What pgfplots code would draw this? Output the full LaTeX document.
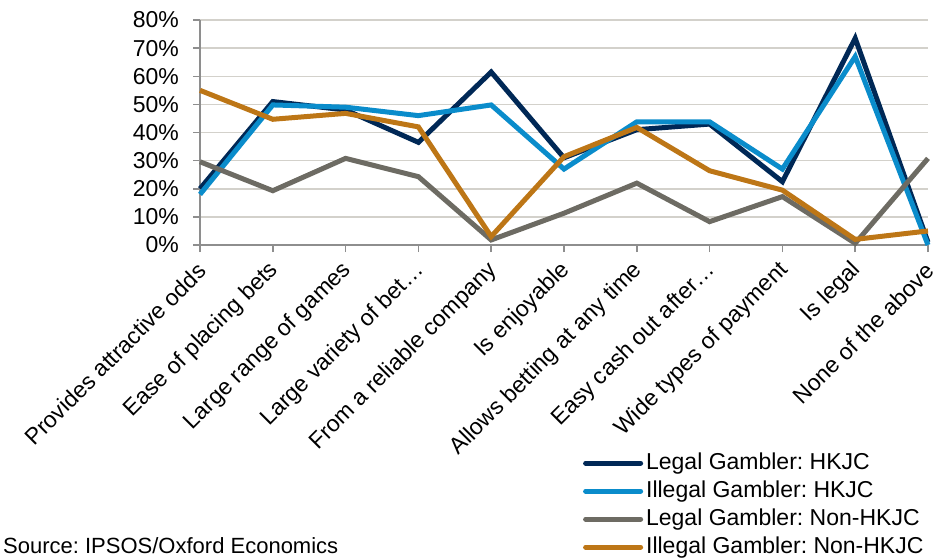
\documentclass[border=0pt]{standalone}
\usepackage{pgfplots}
\pgfplotsset{compat=1.18}
\usepackage{fontspec}
\setmainfont{Liberation Sans}
\frenchspacing
\definecolor{cNavy}{HTML}{002856}
\definecolor{cBlue}{HTML}{0A8CCB}
\definecolor{cGray}{HTML}{6D6B63}
\definecolor{cOrange}{HTML}{BD7616}
\definecolor{cGrid}{HTML}{D3D1CB}
\definecolor{cAxis}{HTML}{8E8E8E}
\begin{document}
\begin{tikzpicture}
\path[use as bounding box] (0pt,0pt) rectangle (937pt,-559pt);
\begin{axis}[
  at={(200pt,-245pt)}, anchor=south west,
  width=728pt, height=225pt, scale only axis,
  xmin=0, xmax=10, ymin=0, ymax=80,
  axis lines=left,
  axis line style={-, draw=cAxis, line width=1.8pt},
  tick align=outside,
  major tick length=7pt,
  tick style={draw=cAxis, line width=1.5pt},
  ymajorgrids,
  grid style={draw=cGrid, line width=1.5pt},
  ytick={0,10,20,30,40,50,60,70,80},
  yticklabels={0\%,10\%,20\%,30\%,40\%,50\%,60\%,70\%,80\%},
  xtick={0,1,2,3,4,5,6,7,8,9,10},
  xticklabels={Provides attractive odds,Ease of placing bets,Large range of games,Large variety of bet…,From a reliable company,Is enjoyable,Allows betting at any time,Easy cash out after…,Wide types of payment,Is legal,None of the above},
  tick label style={font=\fontsize{23}{27}\selectfont},
  yticklabel style={inner sep=0pt, xshift=-14pt},
  xticklabel style={rotate=45, anchor=east, inner sep=0pt, xshift=-9pt, yshift=-12pt},
  legend style={at={(0.526,-0.92)}, anchor=north west, draw=none, fill=none,
    font=\fontsize{23}{26}\selectfont, row sep=6pt, inner sep=0pt,
    nodes={text height=17pt, text depth=5pt, inner sep=0pt, inner xsep=3pt},
    legend cell align=left},
  legend image code/.code={\draw[#1, line width=5pt, line cap=round] (0pt,0pt) -- (55pt,0pt);},
  every axis plot/.append style={line width=5pt, line join=miter, mark=none},
  clip=false,
]
\addplot[cNavy] coordinates {(0,20) (1,51) (2,48) (3,36.5) (4,61.5) (5,31) (6,41) (7,43) (8,22.5) (9,73.5) (10,1)};
\addlegendentry{Legal Gambler: HKJC}
\addplot[cBlue] coordinates {(0,18) (1,49.8) (2,49) (3,46) (4,49.8) (5,27) (6,43.8) (7,43.8) (8,27) (9,67) (10,0)};
\addlegendentry{Illegal Gambler: HKJC}
\addplot[cGray] coordinates {(0,29.6) (1,19.3) (2,30.8) (3,24.3) (4,1.8) (5,11.3) (6,22) (7,8.3) (8,17.2) (9,0.6) (10,30.8)};
\addlegendentry{Legal Gambler: Non-HKJC}
\addplot[cOrange] coordinates {(0,55) (1,44.7) (2,46.8) (3,42) (4,3) (5,31.4) (6,41.8) (7,26.4) (8,19.5) (9,2) (10,5)};
\addlegendentry{Illegal Gambler: Non-HKJC}
\end{axis}
\node[anchor=base west, font=\fontsize{22}{26}\selectfont, inner sep=0pt] at (3pt,-553pt) {Source: IPSOS/Oxford Economics};
\end{tikzpicture}
\end{document}
